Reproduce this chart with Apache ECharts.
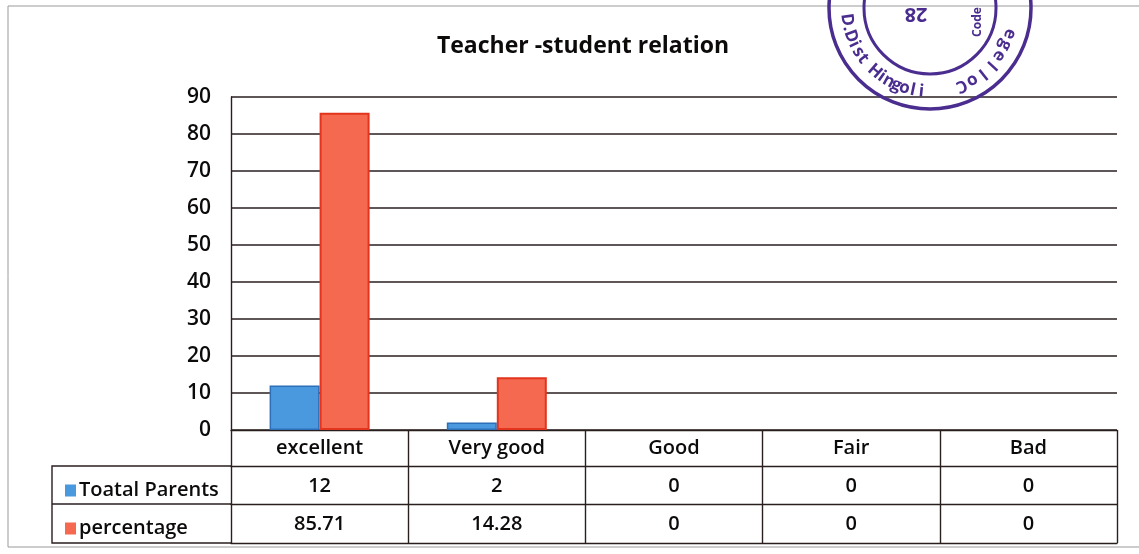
<!DOCTYPE html>
<html><head><meta charset="utf-8">
<script src="https://cdn.jsdelivr.net/npm/echarts@6/dist/echarts.min.js"></script>
<style>html,body{margin:0;padding:0;background:#fff}#c{width:1139px;height:554px}</style>
</head><body><div id="c"></div>
<script>
const title = 'Teacher -student relation';
const categories = ['excellent', 'Very good', 'Good', 'Fair', 'Bad'];
const seriesNames = ['Toatal Parents', 'percentage'];
const totalParents = [12, 2, 0, 0, 0];
const percentage = [85.71, 14.28, 0, 0, 0];
const yTicks = { min: 0, max: 90, interval: 10 };
const stampText = 'D.Dist Hingoli';
const stampText2 = 'College';

const FONT = '"Open Sans", "Liberation Sans", sans-serif';
const INK = '#0d0a0a';
const LINE = '#2a1f1f';
const FW = 600;
const GL = 231, GR = 22, GT = 97, GB = 124; // grid
const axisY = 554 - GB;
const rowLines = [axisY + 36, axisY + 74, axisY + 113];

function barData(values, border) {
  return values.map(v => ({ value: v, itemStyle: { borderWidth: v === 0 ? 0 : border } }));
}

// stamp characters along an arc
const SCX = 930, SCY = 8, SR = 84;
function arcText(str, a0, a1, fs, outward) {
  const n = str.length;
  return str.split('').map((ch, i) => {
    const a = (a0 + (a1 - a0) * (n === 1 ? 0 : i / (n - 1))) * Math.PI / 180;
    return {
      type: 'text', silent: true, z: 101,
      x: SCX + SR * Math.cos(a), y: SCY + SR * Math.sin(a),
      rotation: -(a - Math.PI / 2) + (outward ? Math.PI : 0),
      style: { text: ch, fill: '#4a2d8f', font: 'bold ' + fs + 'px ' + FONT, align: 'center', verticalAlign: 'middle' }
    };
  });
}

const chart = echarts.init(document.getElementById('c'), null, { renderer: 'canvas' });
function tableAxis(offset, values) {
  return {
    type: 'category', gridIndex: 0, position: 'bottom', offset: offset, data: categories,
    axisLine: { show: true, lineStyle: { color: LINE, width: 1.4 } },
    axisTick: { show: false },
    axisLabel: values ? { show: true, margin: 10, color: INK, fontSize: 20, fontWeight: FW, fontFamily: FONT,
      formatter: (v, i) => String(values[i]) } : { show: false }
  };
}
chart.setOption({
  animation: false,
  backgroundColor: '#ffffff',
  title: { text: title, left: 578, top: 30, textAlign: 'center',
    textStyle: { fontFamily: FONT, fontWeight: 'bold', fontSize: 23, color: INK } },
  grid: { left: GL, right: GR, top: GT, bottom: GB, containLabel: false },
  legend: {
    orient: 'vertical', left: 60, top: rowLines[0] + 9, itemGap: 17,
    icon: 'rect', itemWidth: 11, itemHeight: 12,
    data: seriesNames,
    textStyle: { fontFamily: FONT, fontSize: 20, fontWeight: FW, color: INK, lineHeight: 21, padding: [0, 0, 0, -2] }
  },
  xAxis: [
    {
      type: 'category', data: categories, position: 'bottom',
      axisLine: { show: true, lineStyle: { color: LINE, width: 1.4 } },
      axisTick: { show: true, interval: 0, length: 113, inside: false, lineStyle: { color: LINE, width: 1.4 } },
      axisLabel: { margin: 8, color: INK, fontSize: 20, fontWeight: FW, fontFamily: FONT, interval: 0 }
    },
    tableAxis(36, totalParents),
    tableAxis(74, percentage),
    tableAxis(113, null)
  ],
  yAxis: {
    type: 'value', min: yTicks.min, max: yTicks.max, interval: yTicks.interval,
    axisLine: { show: true, lineStyle: { color: LINE, width: 1.4 } },
    axisTick: { show: false },
    axisLabel: { margin: 20, color: INK, fontSize: 21, fontWeight: FW, fontFamily: FONT },
    splitLine: { show: true, lineStyle: { color: LINE, width: 1.5 } }
  },
  series: [
    { name: seriesNames[0], type: 'bar', data: barData(totalParents, 1.5), barWidth: 50, barGap: '0%',
      itemStyle: { color: '#4a98dd', borderColor: '#2d6fb8' } },
    { name: seriesNames[1], type: 'bar', data: barData(percentage, 2), barWidth: 50, barGap: '0%',
      itemStyle: { color: '#f4694f', borderColor: '#e3341d' } }
  ],
  graphic: [
    { type: 'rect', shape: { x: 8, y: 6, width: 1160, height: 541 }, style: { fill: 'none', stroke: '#9a9a9a', lineWidth: 1 }, silent: true },
    { type: 'polyline', shape: { points: [[GL, rowLines[0]], [52, rowLines[0]], [52, rowLines[2]], [GL, rowLines[2]]] }, style: { fill: 'none', stroke: LINE, lineWidth: 1.4 }, silent: true },
    { type: 'line', shape: { x1: 52, y1: rowLines[1], x2: GL, y2: rowLines[1] }, style: { stroke: LINE, lineWidth: 1.4 }, silent: true },
    { type: 'circle', shape: { cx: SCX, cy: SCY, r: 101 }, style: { fill: 'none', stroke: '#4a2d8f', lineWidth: 3.5 }, silent: true, z: 100 },
    { type: 'circle', shape: { cx: SCX, cy: SCY, r: 66 }, style: { fill: 'none', stroke: '#4a2d8f', lineWidth: 3 }, silent: true, z: 100 },
    ...arcText(stampText, 172, 96, 17, false),
    ...arcText(stampText2, 68, 18, 17, true),
    { type: 'text', silent: true, z: 101, x: 916, y: 14, rotation: Math.PI, style: { text: '28', fill: '#4a2d8f', font: 'bold 20px ' + FONT, align: 'center', verticalAlign: 'middle' } },
    { type: 'text', silent: true, z: 101, x: 978, y: 22, rotation: -Math.PI / 2 + Math.PI, style: { text: 'Code', fill: '#4a2d8f', font: 'bold 12px ' + FONT, align: 'center', verticalAlign: 'middle' } }
  ]
});
</script></body></html>
